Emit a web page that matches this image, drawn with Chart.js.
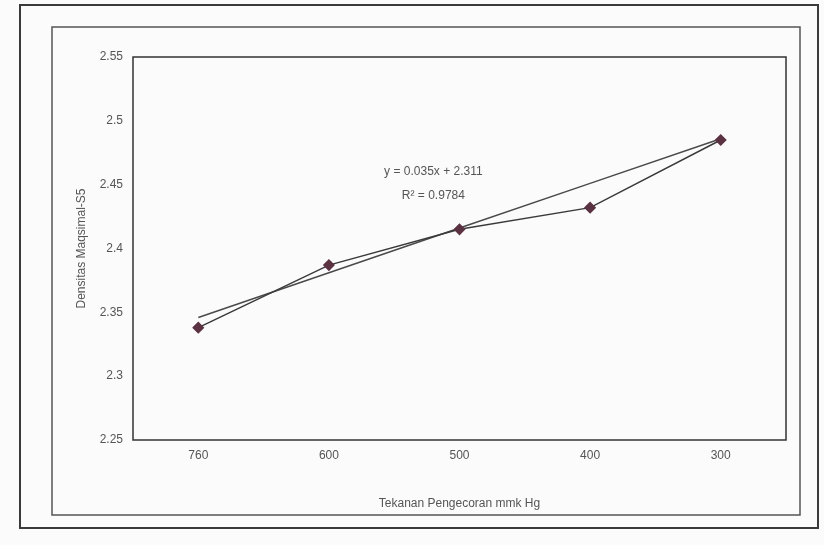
<!DOCTYPE html>
<html>
<head>
<meta charset="utf-8">
<script src="https://cdn.jsdelivr.net/npm/chart.js@4.4.1/dist/chart.umd.min.js"></script>
<style>
  html, body { margin: 0; padding: 0; background: #fbfbfb; }
  #wrap { width: 824px; height: 545px; }
</style>
</head>
<body>
<div id="wrap"><canvas id="density-chart" width="824" height="545"></canvas></div>
<script>
const pressures = ['760', '600', '500', '400', '300'];
const density = [2.338, 2.387, 2.415, 2.432, 2.485];
const trendline = [2.346, 2.381, 2.416, 2.451, 2.486];
const yTicks = [2.25, 2.3, 2.35, 2.4, 2.45, 2.5, 2.55];
const equationLines = ['y = 0.035x + 2.311', 'R² = 0.9784'];

const textColor = '#555';
const fontFamily = '"Liberation Sans", Arial, sans-serif';

// frames around the chart, plus the trendline label
const framePlugin = {
  id: 'frames',
  beforeDraw(chart) {
    const c = chart.ctx;
    c.save();
    c.fillStyle = '#fbfbfb';
    c.fillRect(0, 0, chart.width, chart.height);
    c.strokeStyle = '#3a3a3a';
    c.lineWidth = 2;
    c.strokeRect(20, 5, 798, 523);
    c.lineWidth = 1.5;
    c.strokeStyle = '#555';
    c.strokeRect(52, 27, 748, 488);
    c.restore();
  },
  afterDraw(chart) {
    const c = chart.ctx;
    const area = chart.chartArea;
    c.save();
    c.strokeStyle = '#333';
    c.lineWidth = 1.5;
    c.strokeRect(area.left, area.top, area.right - area.left, area.bottom - area.top);
    c.fillStyle = textColor;
    c.font = '12px ' + fontFamily;
    c.textAlign = 'center';
    const cx = area.left + (area.right - area.left) * 0.46;
    c.fillText(equationLines[0], cx, area.top + 118);
    c.fillText(equationLines[1], cx, area.top + 142);
    c.restore();
  }
};

const data = {
  labels: pressures,
  datasets: [{
    label: 'Densitas',
    data: density,
    borderColor: '#3a3a3a',
    borderWidth: 1.5,
    pointStyle: 'rectRot',
    pointRadius: 5,
    pointBackgroundColor: '#5b3242',
    pointBorderColor: '#5b3242',
    tension: 0,
    order: 1
  }, {
    label: 'Linear',
    data: trendline,
    borderColor: '#4a4a4a',
    borderWidth: 1.5,
    pointRadius: 0,
    tension: 0,
    order: 2
  }]
};

const config = {
  type: 'line',
  data: data,
  options: {
    responsive: false,
    animation: false,
    layout: { padding: { left: 70, right: 38, top: 57, bottom: 30 } },
    plugins: { legend: { display: false }, tooltip: { enabled: false } },
    scales: {
      x: {
        offset: true,
        grid: { display: false, drawTicks: false },
        border: { display: false },
        ticks: { color: textColor, font: { family: fontFamily, size: 12 }, padding: 8 },
        title: {
          display: true,
          text: 'Tekanan Pengecoran mmk Hg',
          color: textColor,
          font: { family: fontFamily, size: 12 },
          padding: { top: 14 }
        },
        afterFit(scale) { scale.height = 75; }
      },
      y: {
        min: 2.25,
        max: 2.55,
        afterBuildTicks(scale) { scale.ticks = yTicks.map(v => ({ value: v })); },
        grid: { display: false, drawTicks: true, tickLength: 4, color: '#333' },
        border: { display: false },
        ticks: {
          color: textColor,
          font: { family: fontFamily, size: 12 },
          padding: 6,
          callback: v => String(Math.round(v * 100) / 100)
        },
        title: {
          display: true,
          text: 'Densitas Maqsimal-S5',
          color: textColor,
          font: { family: fontFamily, size: 12 }
        },
        afterFit(scale) { scale.width = 63; }
      }
    }
  },
  plugins: [framePlugin]
};

const ctx = document.getElementById('density-chart');
new Chart(ctx, config);
</script>
</body>
</html>
